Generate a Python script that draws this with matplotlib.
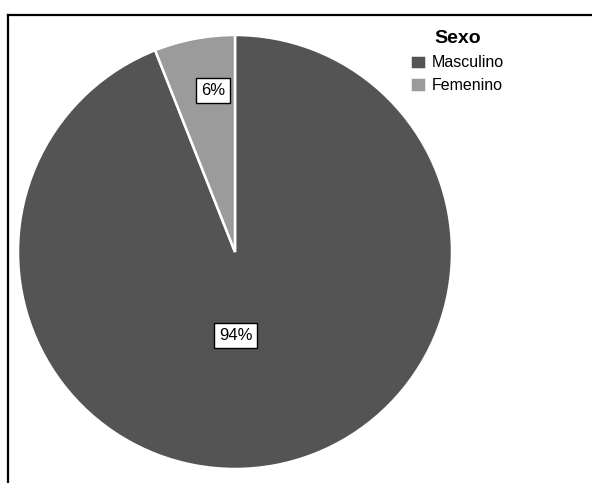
import numpy as np
import matplotlib
matplotlib.use("Agg")
import matplotlib.pyplot as plt
from matplotlib.lines import Line2D

# Datos
categorias = ["Masculino", "Femenino"]
porcentajes = [94, 6]
colores = ["#545454", "#9b9b9b"]

plt.rcParams['font.family'] = ['Liberation Sans', 'DejaVu Sans']

fig = plt.figure(figsize=(5.92, 4.83), dpi=100)
fig.patch.set_facecolor("white")

# Marco (solo izquierda y arriba visibles)
fig.add_artist(Line2D([8 / 592, 8 / 592], [0, 1 - 15 / 483], color="black", lw=1.6))
fig.add_artist(Line2D([8 / 592, 1], [1 - 15 / 483, 1 - 15 / 483], color="black", lw=1.6))

ax = fig.add_axes([18 / 592, 14 / 483, 434 / 592, 434 / 483])
wedges, _ = ax.pie(porcentajes, colors=colores, startangle=90, counterclock=False,
                   wedgeprops=dict(edgecolor="white", linewidth=1.8))
ax.set_xlim(-1, 1)
ax.set_ylim(-1, 1)
ax.set_aspect("auto")

# Etiquetas de porcentaje
distancias = [0.39, 0.76]
desplaz = [-0.07, 0.04]
for w, p, d, dx in zip(wedges, porcentajes, distancias, desplaz):
    ang = np.deg2rad((w.theta1 + w.theta2) / 2)
    x = d * np.cos(ang) + dx
    y = d * np.sin(ang)
    ax.text(x, y, f"{p}%", ha="center", va="center", fontsize=12,
            bbox=dict(boxstyle="square,pad=0.3", fc="white", ec="black", lw=1.0))

leg = fig.legend(wedges, categorias, title="Sexo", loc="upper left",
                 bbox_to_anchor=(404 / 592, 1 - 24 / 483), frameon=False,
                 fontsize=11.5, handlelength=1.0, handleheight=1.0,
                 handletextpad=0.35, labelspacing=0.45, borderaxespad=0)
leg.get_title().set_fontweight("bold")
leg.get_title().set_fontsize(14)

fig.savefig("out.png", dpi=100)
